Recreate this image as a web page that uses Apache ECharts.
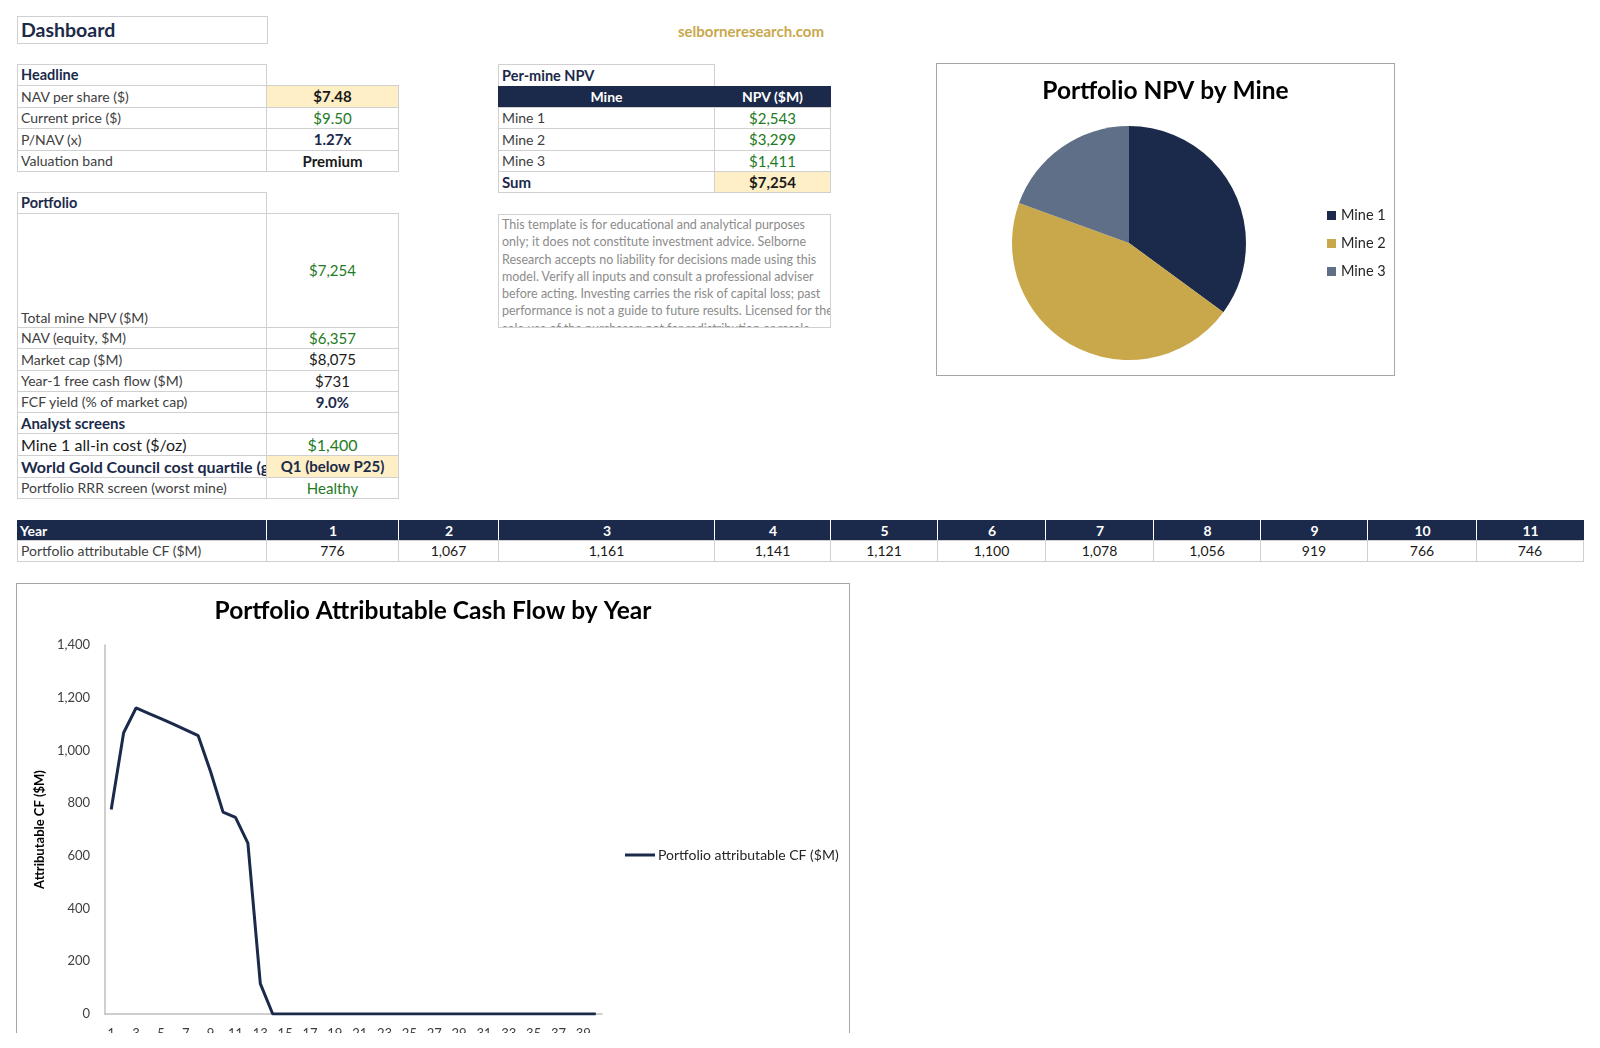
<!DOCTYPE html>
<html><head><meta charset="utf-8">
<script src="https://cdn.jsdelivr.net/npm/echarts@6/dist/echarts.min.js"></script>
<style>
html,body{margin:0;padding:0;background:#fff;}
#page{position:relative;width:1600px;height:1048px;overflow:hidden;background:#fff;font-family:Lato,'Noto Sans',sans-serif;}
#clip{position:absolute;left:0;top:0;width:1600px;height:1033px;overflow:hidden;}
.c{position:absolute;box-sizing:border-box;font-size:14px;color:#404040;line-height:1.1;display:flex;align-items:center;padding:0 3px;white-space:nowrap;overflow:hidden;}
.box{position:absolute;box-sizing:border-box;border:1px solid #A6A6A6;background:#fff;}
#disc{position:absolute;left:498px;top:214px;width:333px;height:114px;box-sizing:border-box;border:1px solid #D0D0D0;padding:1px 3px;font-size:12.5px;line-height:17.3px;color:#8C8C8C;overflow:hidden;white-space:nowrap;}
#site{position:absolute;left:651px;top:22px;width:200px;text-align:center;font-weight:bold;font-size:15px;color:#C9A84C;}
</style></head>
<body><div id="page"><div id="clip">
<div id="site">selborneresearch.com</div>
<div id="disc"></div>
<div class="box" id="pieBox" style="left:936px;top:63px;width:459px;height:313px;"><div id="pieChart" style="width:457px;height:311px;"></div></div>
<div class="box" id="lineBox" style="left:16px;top:583px;width:834px;height:520px;"><div id="lineChart" style="width:832px;height:518px;"></div></div>
</div></div>
<script>
// ---------------- DATA ----------------
const headlineLabels = ['NAV per share ($)', 'Current price ($)', 'P/NAV (x)', 'Valuation band'];
const headlineValues = ['$7.48', '$9.50', '1.27x', 'Premium'];
const portfolioLabels = ['Total mine NPV ($M)', 'NAV (equity, $M)', 'Market cap ($M)', 'Year-1 free cash flow ($M)', 'FCF yield (% of market cap)'];
const portfolioValues = ['$7,254', '$6,357', '$8,075', '$731', '9.0%'];
const screenLabels = ['Mine 1 all-in cost ($/oz)', 'World Gold Council cost quartile (gold)', 'Portfolio RRR screen (worst mine)'];
const screenValues = ['$1,400', 'Q1 (below P25)', 'Healthy'];
const mineNames = ['Mine 1', 'Mine 2', 'Mine 3'];
const mineNPV = [2543, 3299, 1411];
const mineSum = 7254;
const tableYears = ['1', '2', '3', '4', '5', '6', '7', '8', '9', '10', '11'];
const tableCF = [776, 1067, 1161, 1141, 1121, 1100, 1078, 1056, 919, 766, 746];
const chartYears = ['1','2','3','4','5','6','7','8','9','10','11','12','13','14','15','16','17','18','19','20',
  '21','22','23','24','25','26','27','28','29','30','31','32','33','34','35','36','37','38','39','40'];
const chartCF = [776, 1067, 1161, 1141, 1121, 1100, 1078, 1056, 919, 766, 746, 648, 115, 0, 0, 0, 0, 0, 0, 0,
  0, 0, 0, 0, 0, 0, 0, 0, 0, 0, 0, 0, 0, 0, 0, 0, 0, 0, 0, 0];
const disclaimerLines = [
  'This template is for educational and analytical purposes',
  'only; it does not constitute investment advice. Selborne',
  'Research accepts no liability for decisions made using this',
  'model. Verify all inputs and consult a professional adviser',
  'before acting. Investing carries the risk of capital loss; past',
  'performance is not a guide to future results. Licensed for the',
  'sole use of the purchaser; not for redistribution or resale.'
];

// ---------------- STYLE ----------------
const NAVY = '#1B2A4A', GOLD = '#C9A84C', SLATE = '#5F6F87', GREEN = '#237A23', YEL = '#FFEFC6', BORD = '#D0D0D0';
const clip = document.getElementById('clip');
function cell(x, y, w, h, text, o) {
  o = o || {};
  const d = document.createElement('div');
  d.className = 'c';
  d.style.left = x + 'px'; d.style.top = y + 'px';
  d.style.width = (w + 1) + 'px'; d.style.height = (h + 1) + 'px';
  const b = o.border === false ? 'none' : '1px solid ' + BORD;
  d.style.border = b;
  if (o.bg) d.style.background = o.bg;
  if (o.color) d.style.color = o.color;
  if (o.bold) d.style.fontWeight = 'bold';
  if (o.size) d.style.fontSize = o.size + 'px';
  if (o.align === 'center') d.style.justifyContent = 'center';
  if (o.valign === 'bottom') { d.style.alignItems = 'flex-end'; d.style.paddingBottom = '2px'; }
  d.textContent = text;
  clip.appendChild(d);
  return d;
}
const A = [17, 249], B = [266, 132], D = [498, 216], E = [714, 116];
const COLS = [[17,249],[266,132],[398,100],[498,216],[714,116],[830,107],[937,108],[1045,108],[1153,107],[1260,107],[1367,109],[1476,107]];

// Dashboard title
cell(17, 16, 250, 27, 'Dashboard', {bold: true, size: 19.5, color: NAVY});

// Headline
const hRows = [64, 85, 107, 128, 150, 171];
cell(A[0], hRows[0], A[1], hRows[1] - hRows[0], 'Headline', {bold: true, size: 14.5, color: NAVY});
const hStyles = [
  {bold: true, color: '#1a1a1a', bg: YEL},
  {color: GREEN},
  {bold: true, color: NAVY},
  {bold: true, color: '#1a1a1a'}
];
headlineLabels.forEach((l, i) => {
  const y = hRows[i + 1], h = hRows[i + 2] - y;
  cell(A[0], y, A[1], h, l);
  cell(B[0], y, B[1], h, headlineValues[i], Object.assign({align: 'center', size: 15}, hStyles[i]));
});

// Portfolio
const pRows = [192, 213, 327, 348, 370, 391, 412, 433, 455, 477, 498];
cell(A[0], pRows[0], A[1], pRows[1] - pRows[0], 'Portfolio', {bold: true, size: 14.5, color: NAVY});
const pStyles = [{color: GREEN}, {color: GREEN}, {color: '#1a1a1a'}, {color: '#1a1a1a'}, {bold: true, color: NAVY}];
portfolioLabels.forEach((l, i) => {
  const y = pRows[i + 1], h = pRows[i + 2] - y;
  cell(A[0], y, A[1], h, l, i === 0 ? {valign: 'bottom'} : {});
  cell(B[0], y, B[1], h, portfolioValues[i], Object.assign({align: 'center', size: 15}, pStyles[i]));
});
cell(A[0], pRows[6], A[1], pRows[7] - pRows[6], 'Analyst screens', {bold: true, size: 15, color: NAVY});
cell(B[0], pRows[6], B[1], pRows[7] - pRows[6], '');
const sLabelStyles = [{size: 16, color: '#1a1a1a'}, {size: 16, bold: true, color: NAVY}, {}];
const sValStyles = [{size: 16, color: GREEN}, {size: 15, bold: true, color: NAVY, bg: YEL}, {size: 15, color: GREEN}];
screenLabels.forEach((l, i) => {
  const y = pRows[i + 7], h = pRows[i + 8] - y;
  cell(A[0], y, A[1], h, l, sLabelStyles[i]);
  cell(B[0], y, B[1], h, screenValues[i], Object.assign({align: 'center'}, sValStyles[i]));
});

// Per-mine NPV
const mRows = [64, 86, 107, 128, 150, 171, 192];
cell(D[0], mRows[0], D[1], mRows[1] - mRows[0], 'Per-mine NPV', {bold: true, size: 14.5, color: NAVY});
cell(D[0], mRows[1], D[1], mRows[2] - mRows[1], 'Mine', {bold: true, color: '#fff', bg: NAVY, align: 'center', border: false});
cell(E[0], mRows[1], E[1], mRows[2] - mRows[1], 'NPV ($M)', {bold: true, color: '#fff', bg: NAVY, align: 'center', border: false});
const fmt$ = v => '$' + v.toLocaleString('en-US');
mineNames.forEach((n, i) => {
  const y = mRows[i + 2], h = mRows[i + 3] - y;
  cell(D[0], y, D[1], h, n);
  cell(E[0], y, E[1], h, fmt$(mineNPV[i]), {align: 'center', color: GREEN, size: 15});
});
cell(D[0], mRows[5], D[1], mRows[6] - mRows[5], 'Sum', {bold: true, size: 15, color: NAVY});
cell(E[0], mRows[5], E[1], mRows[6] - mRows[5], fmt$(mineSum), {bold: true, size: 15, color: '#1a1a1a', bg: YEL, align: 'center'});

// Disclaimer
document.getElementById('disc').innerHTML = disclaimerLines.join('<br>');

// Year table
const yRows = [520, 540, 561];
cell(COLS[0][0], yRows[0], COLS[0][1], yRows[1] - yRows[0], 'Year', {bold: true, color: '#fff', bg: NAVY, border: false});
cell(COLS[0][0], yRows[1], COLS[0][1], yRows[2] - yRows[1], 'Portfolio attributable CF ($M)');
tableYears.forEach((t, i) => {
  const c = COLS[i + 1];
  const hd = cell(c[0], yRows[0], c[1], yRows[1] - yRows[0], t, {bold: true, color: '#fff', bg: NAVY, align: 'center'});
  hd.style.border = 'none'; hd.style.borderLeft = '1px solid #ffffff';
  cell(c[0], yRows[1], c[1], yRows[2] - yRows[1], tableCF[i].toLocaleString('en-US'), {align: 'center', color: '#1a1a1a'});
});

// ---------------- CHARTS ----------------
const pie = echarts.init(document.getElementById('pieChart'));
pie.setOption({
  animation: false,
  textStyle: {fontFamily: 'Lato'},
  title: {text: 'Portfolio NPV by Mine', left: 'center', top: 10, textStyle: {fontSize: 24.5, fontWeight: 'bold', color: '#000', fontFamily: 'Lato'}},
  legend: {orient: 'vertical', left: 385, top: 139, itemWidth: 9, itemHeight: 9, itemGap: 13, icon: 'rect',
    data: mineNames, textStyle: {fontSize: 14.5, color: '#262626', fontFamily: 'Lato'}},
  series: [{
    type: 'pie', center: [192, 179], radius: 117, startAngle: 90, clockwise: true,
    label: {show: false}, labelLine: {show: false}, emphasis: {disabled: true},
    itemStyle: {borderWidth: 0},
    data: mineNames.map((n, i) => ({name: n, value: mineNPV[i], itemStyle: {color: [NAVY, GOLD, SLATE][i]}}))
  }]
});

const line = echarts.init(document.getElementById('lineChart'));
line.setOption({
  animation: false,
  textStyle: {fontFamily: 'Lato'},
  title: {text: 'Portfolio Attributable Cash Flow by Year', left: 'center', top: 10, textStyle: {fontSize: 24.5, fontWeight: 'bold', color: '#000', fontFamily: 'Lato'}},
  legend: {orient: 'vertical', left: 603, top: 259, itemWidth: 30, itemHeight: 3, itemGap: 10, icon: 'rect', data: ['Portfolio attributable CF ($M)'],
    textStyle: {fontSize: 14, color: '#262626', fontFamily: 'Lato', padding: [0, 0, 0, -2]}},
  grid: {left: 88, top: 61, width: 497, height: 369},
  xAxis: {type: 'category', data: chartYears, boundaryGap: true,
    axisLine: {lineStyle: {color: '#BFBFBF', width: 1.5}}, axisTick: {show: false},
    axisLabel: {interval: 1, fontSize: 13, color: '#404040', margin: 13}},
  yAxis: {type: 'value', min: 0, max: 1400, interval: 200,
    splitLine: {show: false}, axisTick: {show: false},
    axisLine: {show: true, lineStyle: {color: '#BFBFBF', width: 1.5}},
    axisLabel: {fontSize: 13, color: '#404040', margin: 15, formatter: v => v.toLocaleString('en-US')},
    name: 'Attributable CF ($M)', nameLocation: 'middle', nameGap: 51, nameRotate: 90,
    nameTextStyle: {fontSize: 13, fontWeight: 'bold', color: '#000'}},
  series: [{name: 'Portfolio attributable CF ($M)', type: 'line', data: chartCF, symbol: 'none',
    lineStyle: {color: NAVY, width: 3}, itemStyle: {color: NAVY}, emphasis: {disabled: true}}]
});
</script>
</body></html>
